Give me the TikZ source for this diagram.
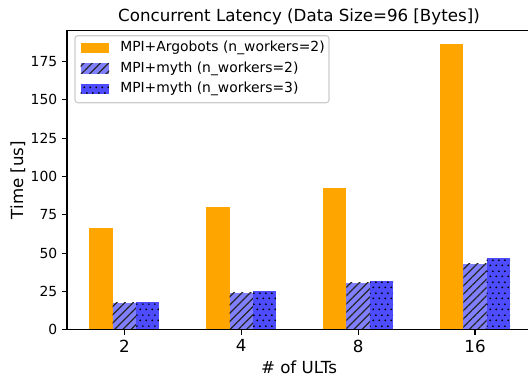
\documentclass[tikz,border=0pt]{standalone}
\usepackage{fontspec}
\setmainfont{DejaVu Sans}
\usetikzlibrary{patterns.meta}
\tikzdeclarepattern{
  name=hexdots,
  type=uncolored,
  bottom left={(0pt,0pt)},
  top right={(4pt,8pt)},
  tile size={(4pt,8pt)},
  code={
    \fill (1pt,2pt) circle (0.75pt);
    \fill (3pt,6pt) circle (0.75pt);
  }
}
\definecolor{barorange}{HTML}{FFA500}
\definecolor{barlight}{HTML}{8080FF}
\definecolor{bardark}{HTML}{4D4DFF}
\tikzset{
  orangebar/.style={fill=barorange},
  hatchbar/.style={fill=barlight},
  hatchlines/.style={pattern={Lines[angle=45,distance=4.2pt,line width=0.8pt]},pattern color=black!85},
  dotbar/.style={fill=bardark},
  dotfill/.style={pattern=hexdots,pattern color=black},
  spine/.style={line width=0.8pt,black},
  tickmark/.style={line width=0.8pt,black},
  ticklab/.style={font=\fontsize{10}{12}\selectfont,inner sep=0pt},
  xticklab/.style={font=\fontsize{12}{14}\selectfont,inner sep=0pt},
  axlab/.style={font=\fontsize{12}{14}\selectfont,inner sep=0pt},
  legtext/.style={font=\fontsize{10}{12}\selectfont,inner sep=0pt,anchor=west},
}
\begin{document}
\begin{tikzpicture}[x=0.72pt,y=-0.72pt]
\useasboundingbox (0,0) rectangle (528,378);
% bars
\def\bw{23.4}
\foreach \i/\a/\b/\c in {0/66.5/17.6/18.3, 1/80.2/24.0/25.5, 2/92.6/30.7/32.0, 3/186.7/43.0/47.0}{
  \pgfmathsetmacro{\xc}{124.3+116.9*\i}
  \pgfmathsetmacro{\ya}{329.7-1.532*\a}
  \pgfmathsetmacro{\yb}{329.7-1.532*\b}
  \pgfmathsetmacro{\yc}{329.7-1.532*\c}
  \fill[orangebar] (\xc-1.5*\bw,329.7) rectangle (\xc-0.5*\bw,\ya);
  \fill[hatchbar] (\xc-0.5*\bw,329.7) rectangle (\xc+0.5*\bw,\yb);
  \fill[hatchlines] (\xc-0.5*\bw,329.7) rectangle (\xc+0.5*\bw,\yb);
  \fill[dotbar] (\xc+0.5*\bw,329.7) rectangle (\xc+1.5*\bw,\yc);
  \fill[dotfill] (\xc+0.5*\bw,329.7) rectangle (\xc+1.5*\bw,\yc);
}
% axes frame
\draw[spine] (67,329.7) -- (67,30.5);
\draw[spine] (67,30.5) -- (531,30.5);
\draw[spine] (67,329.7) -- (531,329.7);
\draw[spine] (531,30.5) -- (531,329.7);
% y ticks
\foreach \v in {0,25,50,75,100,125,150,175}{
  \pgfmathsetmacro{\yy}{329.7-1.532*\v}
  \draw[tickmark] (67,\yy) -- (62.1,\yy);
  \node[ticklab,anchor=east] (yt\v) at (57.5,\yy) {\v};
}
% x ticks
\foreach \i/\lab in {0/2,1/4,2/8,3/16}{
  \pgfmathsetmacro{\xc}{124.3+116.9*\i}
  \draw[tickmark] (\xc,329.7) -- (\xc,334.6);
  \node[xticklab,anchor=north] (xt\i) at (\xc,339.5) {\lab};
}
% labels
\node[axlab] (xlabel) at (299,367) {\# of ULTs};
\node[axlab,rotate=90] (ylabel) at (18,180) {Time [us]};
\node[axlab] (title) at (299,17) {Concurrent Latency (Data Size=96 [Bytes])};
% legend
\draw[draw=black!20,fill=white,fill opacity=0.8,rounded corners=2pt,line width=0.8pt] (75,35.7) rectangle (329,102.7);
\fill[orangebar] (80.7,42.7) rectangle (109,53.3);
\fill[hatchbar] (80.7,63.3) rectangle (109,74);
\fill[hatchlines] (80.7,63.3) rectangle (109,74);
\fill[dotbar] (80.7,84.3) rectangle (109,94.3);
\fill[dotfill] (80.7,84.3) rectangle (109,94.3);
\node[legtext] (leg1) at (120,48) {MPI+Argobots (n\_workers=2)};
\node[legtext] (leg2) at (120,68.7) {MPI+myth (n\_workers=2)};
\node[legtext] (leg3) at (120,89.3) {MPI+myth (n\_workers=3)};
\end{tikzpicture}
\end{document}
